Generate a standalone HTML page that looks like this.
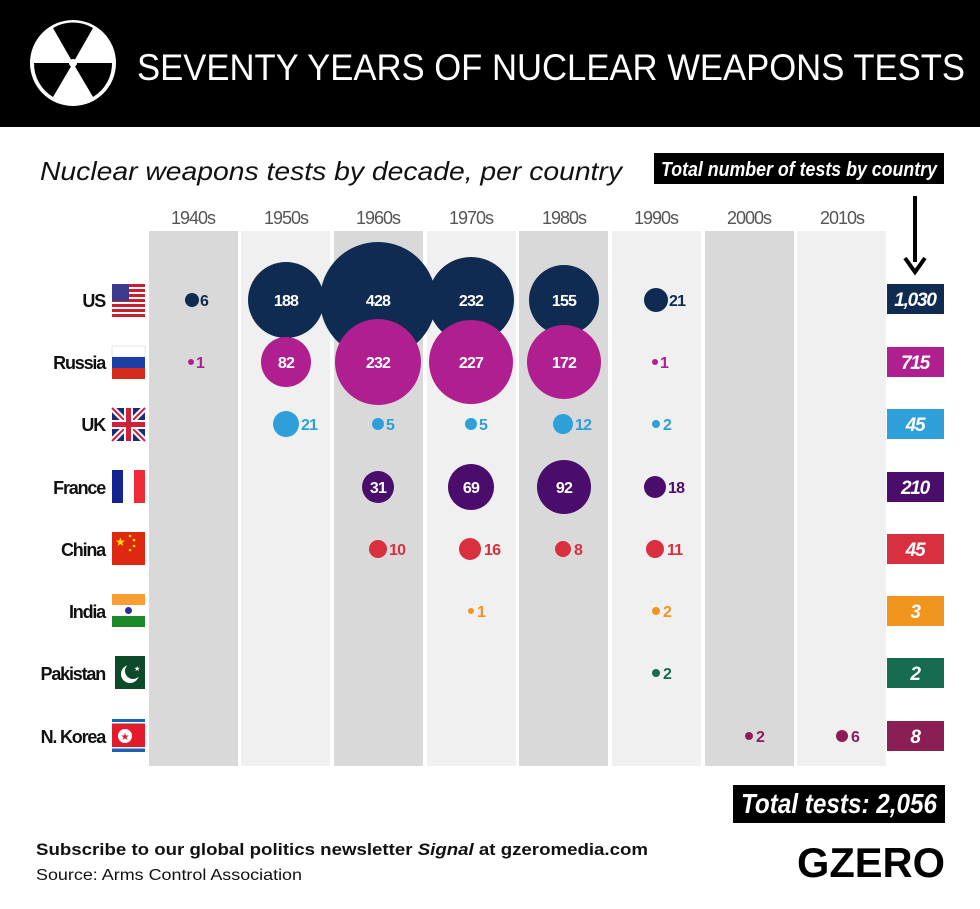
<!DOCTYPE html>
<html><head><meta charset="utf-8"><style>
html,body{margin:0;padding:0;background:#fff;}
svg{display:block}
.n{font-family:"Liberation Sans",sans-serif;font-weight:bold;font-size:16px;letter-spacing:-0.8px}
.w{fill:#fff;text-anchor:middle}
.dec{font-family:"Liberation Sans",sans-serif;font-size:18px;fill:#555;text-anchor:middle;letter-spacing:-1px}
.cty{font-family:"Liberation Sans",sans-serif;font-weight:bold;font-size:18px;fill:#111;text-anchor:end;letter-spacing:-1.2px}
.tot{font-family:"Liberation Sans",sans-serif;font-weight:bold;font-style:italic;font-size:19px;fill:#fff;text-anchor:middle;letter-spacing:-1.2px}
</style></head><body>
<svg width="980" height="909" viewBox="0 0 980 909" xmlns="http://www.w3.org/2000/svg">
<rect x="0" y="0" width="980" height="127" fill="#000"/>
<circle cx="73" cy="63" r="43" fill="#fff"/>
<g fill="#000">
<path d="M73,63 L53,28 A39,39 0 0 1 93,28 Z"/>
<path d="M73,63 L112,63 A39,39 0 0 1 93,97 Z"/>
<path d="M73,63 L53,97 A39,39 0 0 1 34,63 Z"/>
</g>
<circle cx="73" cy="63" r="4" fill="#fff"/>
<text x="137" y="80" font-family="Liberation Sans, sans-serif" font-size="37" fill="#fff" textLength="828" lengthAdjust="spacingAndGlyphs">SEVENTY YEARS OF NUCLEAR WEAPONS TESTS</text>
<text x="40" y="180" font-family="Liberation Sans, sans-serif" font-style="italic" font-size="26" fill="#111" textLength="582" lengthAdjust="spacingAndGlyphs">Nuclear weapons tests by decade, per country</text>
<rect x="654" y="153" width="290" height="31" fill="#000"/>
<text x="799" y="176" font-family="Liberation Sans, sans-serif" font-weight="bold" font-style="italic" font-size="20" fill="#fff" text-anchor="middle" textLength="276" lengthAdjust="spacingAndGlyphs">Total number of tests by country</text>
<line x1="915" y1="196" x2="915" y2="262" stroke="#000" stroke-width="4"/>
<path d="M905,258 L915,272 L925,258" fill="none" stroke="#000" stroke-width="4"/>
<rect x="149" y="231" width="89" height="535" fill="#d9d9d9"/>
<rect x="241" y="231" width="89" height="535" fill="#f0f0f0"/>
<rect x="334" y="231" width="89" height="535" fill="#d9d9d9"/>
<rect x="427" y="231" width="89" height="535" fill="#f0f0f0"/>
<rect x="519" y="231" width="89" height="535" fill="#d9d9d9"/>
<rect x="612" y="231" width="89" height="535" fill="#f0f0f0"/>
<rect x="705" y="231" width="89" height="535" fill="#d9d9d9"/>
<rect x="797" y="231" width="89" height="535" fill="#f0f0f0"/>
<text class="dec" x="193" y="224">1940s</text>
<text class="dec" x="286" y="224">1950s</text>
<text class="dec" x="378" y="224">1960s</text>
<text class="dec" x="471" y="224">1970s</text>
<text class="dec" x="564" y="224">1980s</text>
<text class="dec" x="656" y="224">1990s</text>
<text class="dec" x="749" y="224">2000s</text>
<text class="dec" x="842" y="224">2010s</text>
<g>
<text class="cty" x="105" y="307">US</text>
<text class="cty" x="105" y="369">Russia</text>
<text class="cty" x="105" y="431">UK</text>
<text class="cty" x="105" y="494">France</text>
<text class="cty" x="105" y="556">China</text>
<text class="cty" x="105" y="618">India</text>
<text class="cty" x="105" y="680">Pakistan</text>
<text class="cty" x="105" y="743">N. Korea</text>
</g>
<g>
<rect x="112" y="284" width="33" height="33" fill="#fff"/>
<g fill="#c8202f"><rect x="112" y="284" width="33" height="3"/><rect x="112" y="289" width="33" height="3"/><rect x="112" y="294" width="33" height="3"/><rect x="112" y="299" width="33" height="3"/><rect x="112" y="304" width="33" height="3"/><rect x="112" y="309" width="33" height="3"/><rect x="112" y="314" width="33" height="3"/></g>
<rect x="112" y="284" width="17" height="17" fill="#3c3b8e"/>
<rect x="112" y="346" width="33" height="11" fill="#fff" stroke="#ccc" stroke-width=".5"/><rect x="112" y="357" width="33" height="11" fill="#1c3fa5"/><rect x="112" y="368" width="33" height="11" fill="#d52b1e"/>
<rect x="112" y="408" width="33" height="33" fill="#1e2a78"/>
<path d="M112,408 L145,441 M145,408 L112,441" stroke="#fff" stroke-width="6"/>
<path d="M112,408 L145,441 M145,408 L112,441" stroke="#d0213a" stroke-width="2"/>
<rect x="124" y="408" width="9" height="33" fill="#fff"/><rect x="112" y="420" width="33" height="9" fill="#fff"/>
<rect x="126" y="408" width="5" height="33" fill="#d0213a"/><rect x="112" y="422" width="33" height="5" fill="#d0213a"/>
<rect x="112" y="470" width="11" height="33" fill="#14248f"/><rect x="123" y="470" width="11" height="33" fill="#fff"/><rect x="134" y="470" width="11" height="33" fill="#ec2b3b"/>
<rect x="112" y="532" width="33" height="33" fill="#de2910"/>
<text x="115" y="546" font-size="12" fill="#ffde00" font-family="DejaVu Sans,sans-serif">★</text>
<g fill="#ffde00"><circle cx="130" cy="536" r="1.3"/><circle cx="134" cy="540" r="1.3"/><circle cx="134" cy="546" r="1.3"/><circle cx="130" cy="550" r="1.3"/></g>
<rect x="112" y="594" width="33" height="11" fill="#f99d34"/><rect x="112" y="605" width="33" height="11" fill="#fff"/><rect x="112" y="616" width="33" height="11" fill="#1a8a2a"/>
<circle cx="128.5" cy="610.5" r="3.5" fill="#2b2f8f"/>
<rect x="112" y="656" width="33" height="33" fill="#0d4a2a"/><rect x="112" y="656" width="3" height="33" fill="#fff"/>
<circle cx="130" cy="674" r="9" fill="#fff"/><circle cx="133" cy="671" r="8" fill="#0d4a2a"/>
<text x="134" y="671" font-size="7" fill="#fff" font-family="DejaVu Sans,sans-serif">★</text>
<rect x="112" y="719" width="33" height="33" fill="#2060b0"/><rect x="112" y="722" width="33" height="1.5" fill="#fff"/><rect x="112" y="724" width="33" height="24" fill="#e21b2c"/><rect x="112" y="747" width="33" height="1.5" fill="#fff"/>
<circle cx="125" cy="736" r="7" fill="#fff"/>
<text x="125" y="740" font-size="10" fill="#e21b2c" text-anchor="middle" font-family="DejaVu Sans,sans-serif">★</text>
</g>
<g fill="#0f2b52">
<circle cx="192" cy="300" r="7"/><circle cx="286" cy="300" r="38"/><circle cx="378" cy="300" r="58"/><circle cx="471" cy="300" r="43"/><circle cx="564" cy="300" r="35"/><circle cx="656" cy="300" r="12"/>
<text class="n" x="200" y="306">6</text><text class="n" x="669" y="306">21</text>
</g>
<g class="n"><text class="w" x="286" y="306">188</text><text class="w" x="378" y="306">428</text><text class="w" x="471" y="306">232</text><text class="w" x="564" y="306">155</text></g>
<g fill="#b01f8f">
<circle cx="191" cy="362" r="3"/><circle cx="286" cy="362" r="25"/><circle cx="378" cy="362" r="43"/><circle cx="471" cy="362" r="42"/><circle cx="564" cy="362" r="37"/><circle cx="655" cy="362" r="3"/>
<text class="n" x="196" y="368">1</text><text class="n" x="660" y="368">1</text>
</g>
<g class="n"><text class="w" x="286" y="368">82</text><text class="w" x="378" y="368">232</text><text class="w" x="471" y="368">227</text><text class="w" x="564" y="368">172</text></g>
<g fill="#2e9fd9">
<circle cx="286" cy="424" r="13"/><circle cx="378" cy="424" r="6"/><circle cx="471" cy="424" r="6"/><circle cx="563" cy="424" r="10"/><circle cx="656" cy="424" r="4"/>
<text class="n" x="301" y="430">21</text><text class="n" x="386" y="430">5</text><text class="n" x="479" y="430">5</text><text class="n" x="575" y="430">12</text><text class="n" x="663" y="430">2</text>
</g>
<g fill="#4b0d6b">
<circle cx="378" cy="487" r="16"/><circle cx="471" cy="487" r="23"/><circle cx="564" cy="487" r="27"/><circle cx="655" cy="487" r="11"/>
<text class="n" x="668" y="493">18</text>
</g>
<g class="n"><text class="w" x="378" y="493">31</text><text class="w" x="471" y="493">69</text><text class="w" x="564" y="493">92</text></g>
<g fill="#d9303f">
<circle cx="378" cy="549" r="9"/><circle cx="470" cy="549" r="11"/><circle cx="563" cy="549" r="8"/><circle cx="655" cy="549" r="9"/>
<text class="n" x="389" y="555">10</text><text class="n" x="484" y="555">16</text><text class="n" x="574" y="555">8</text><text class="n" x="667" y="555">11</text>
</g>
<g fill="#f0951e">
<circle cx="471" cy="611" r="3"/><circle cx="656" cy="611" r="4"/>
<text class="n" x="477" y="617">1</text><text class="n" x="663" y="617">2</text>
</g>
<g fill="#166b50"><circle cx="656" cy="673" r="4"/><text class="n" x="663" y="679">2</text></g>
<g fill="#8b1f55">
<circle cx="749" cy="736" r="4"/><circle cx="842" cy="736" r="6"/>
<text class="n" x="756" y="742">2</text><text class="n" x="851" y="742">6</text>
</g>
<rect x="887" y="284" width="57" height="30" fill="#0f2b52"/><text class="tot" x="915" y="306">1,030</text>
<rect x="887" y="347" width="57" height="30" fill="#b01f8f"/><text class="tot" x="915" y="369">715</text>
<rect x="887" y="409" width="57" height="30" fill="#2e9fd9"/><text class="tot" x="915" y="431">45</text>
<rect x="887" y="472" width="57" height="30" fill="#4b0d6b"/><text class="tot" x="915" y="494">210</text>
<rect x="887" y="534" width="57" height="30" fill="#d9303f"/><text class="tot" x="915" y="556">45</text>
<rect x="887" y="596" width="57" height="30" fill="#f0951e"/><text class="tot" x="915" y="618">3</text>
<rect x="887" y="658" width="57" height="30" fill="#166b50"/><text class="tot" x="915" y="680">2</text>
<rect x="887" y="721" width="57" height="30" fill="#8b1f55"/><text class="tot" x="915" y="743">8</text>
<rect x="733" y="785" width="212" height="38" fill="#000"/>
<text x="839" y="813" font-family="Liberation Sans, sans-serif" font-weight="bold" font-style="italic" font-size="28" fill="#fff" text-anchor="middle" textLength="196" lengthAdjust="spacingAndGlyphs">Total tests: 2,056</text>
<text x="36" y="855" font-family="Liberation Sans, sans-serif" font-weight="bold" font-size="17" fill="#111" textLength="612" lengthAdjust="spacingAndGlyphs">Subscribe to our global politics newsletter <tspan font-style="italic">Signal</tspan> at gzeromedia.com</text>
<text x="36" y="880" font-family="Liberation Sans, sans-serif" font-size="16" fill="#111" textLength="266" lengthAdjust="spacingAndGlyphs">Source: Arms Control Association</text>
<text x="797" y="877" font-family="Liberation Sans, sans-serif" font-weight="bold" font-size="42" fill="#000" textLength="148" lengthAdjust="spacingAndGlyphs">GZERO</text>
</svg>
</body></html>
